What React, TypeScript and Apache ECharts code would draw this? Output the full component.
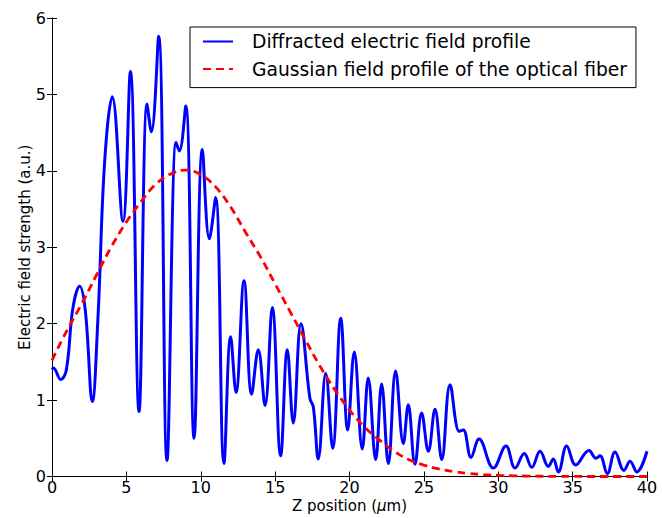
import React, { useEffect, useRef } from "react";
import * as echarts from "echarts";

// Diffracted electric field profile (extrema and shoulders)
const diffX = [
  0, 0.1, 0.58, 0.96, 1.41, 1.86, 2.24, 2.71, 3.09, 3.54, 4.05, 4.77, 5.27, 5.85, 6.39, 6.68, 7.17, 7.73,
  8.34, 8.56, 8.99, 9.55, 10.11, 10.58, 11.0, 11.56, 12.01, 12.37, 12.91, 13.42, 13.87, 14.32, 14.81, 15.37,
  15.82, 16.22, 16.74, 17.34, 17.57, 17.9, 18.4, 18.87, 19.41, 19.88, 20.32, 20.86, 21.26, 21.76, 22.16,
  22.61, 23.1, 23.62, 23.95, 24.4, 24.85, 25.3, 25.75, 26.2, 26.76, 27.38, 27.65, 28.17, 28.71, 29.67,
  30.52, 31.13, 31.75, 32.25, 32.81, 33.37, 33.7, 34.04, 34.6, 35.21, 36.1, 36.57, 36.84, 37.33, 37.85,
  38.45, 38.86, 39.31, 40,
];
const diffY = [
  1.4, 1.42, 1.27, 1.39, 2.21, 2.49, 2.17, 0.98, 2.08, 4.12, 4.97, 3.34, 5.3, 0.85, 4.87, 4.51, 5.76, 0.21,
  4.37, 4.26, 4.85, 0.5, 4.28, 3.11, 3.65, 0.17, 1.83, 1.1, 2.56, 1.08, 1.66, 0.93, 2.21, 0.27,
  1.66, 0.7, 2.0, 1.02, 0.91, 0.23, 1.35, 0.37, 2.07, 0.61, 1.63, 0.36, 1.29, 0.22, 1.21,
  0.17, 1.38, 0.43, 0.94, 0.16, 0.83, 0.33, 0.88, 0.22, 1.2, 0.59, 0.61, 0.25, 0.49, 0.11,
  0.4, 0.11, 0.3, 0.12, 0.33, 0.13, 0.23, 0.06, 0.4, 0.15, 0.34, 0.24, 0.27, 0.04, 0.32,
  0.08, 0.2, 0.06, 0.33,
];

// Gaussian field profile of the optical fiber (read at integer positions)
const gaussX = [
  0, 1, 2, 3, 4, 5, 6, 7, 8, 9, 10, 11, 12, 13, 14, 15, 16, 17, 18, 19, 20, 21, 22, 23, 24, 25, 26, 27, 28,
  29, 30, 31, 32, 33, 34, 35, 36, 37, 38, 39, 40,
];
const gaussY = [
  1.52, 1.91, 2.26, 2.64, 3.01, 3.33, 3.6, 3.83, 3.96, 4.01, 3.95, 3.79, 3.53, 3.2, 2.88, 2.52, 2.16, 1.8,
  1.45, 1.14, 0.87, 0.65, 0.48, 0.33, 0.22, 0.15, 0.1, 0.065, 0.04, 0.025, 0.015, 0.009, 0.005, 0.003,
  0.002, 0.001, 0, 0, 0, 0, 0,
];

const xTicks = { min: 0, max: 40, interval: 5 };
const yTicks = { min: 0, max: 6, interval: 1 };

const seriesNames = ["Diffracted electric field profile", "Gaussian field profile of the optical fiber"];

const FONT = "DejaVu Sans";

export default function App() {
  const ref = useRef<HTMLDivElement>(null);
  useEffect(() => {
    if (!ref.current) return;
    const chart = echarts.init(ref.current, null, { renderer: "svg" });
    const axisLine = { show: true, lineStyle: { color: "#000", width: 1 } };
    const tick = { show: true, inside: true, length: 5, lineStyle: { color: "#000", width: 1 } };
    chart.setOption({
      animation: false,
      backgroundColor: "#fff",
      textStyle: { fontFamily: FONT },
      grid: { left: 52, right: 15, top: 18, bottom: 37.5, containLabel: false },
      legend: {
        orient: "vertical",
        left: 190,
        top: 27,
        padding: [5, 9, 9, 12],
        itemGap: 8.6,
        itemWidth: 30,
        itemHeight: 19,
        borderColor: "#000",
        borderWidth: 1,
        borderRadius: 0,
        backgroundColor: "#fff",
        itemStyle: { opacity: 0 },
        textStyle: { fontFamily: FONT, fontSize: 18.7, color: "#000", padding: [0, 0, 0, 14], lineHeight: 19 },
        data: seriesNames,
      },
      xAxis: [
        {
          type: "value",
          position: "bottom",
          ...xTicks,
          name: "Z position ({i|μ}m)",
          nameLocation: "middle",
          nameGap: 21.5,
          nameMoveOverlap: false,
          nameTextStyle: {
            fontFamily: FONT,
            fontSize: 15,
            lineHeight: 15,
            color: "#000",
            verticalAlign: "top",
            rich: { i: { fontFamily: FONT, fontSize: 15, lineHeight: 15, fontStyle: "italic", color: "#000" } },
          },
          axisLine,
          axisTick: tick,
          axisLabel: { fontFamily: FONT, fontSize: 16, lineHeight: 16, color: "#000", margin: 3 },
          splitLine: { show: false },
        },
        {
          type: "value",
          position: "top",
          ...xTicks,
          axisLine,
          axisTick: tick,
          axisLabel: { show: false },
          splitLine: { show: false },
        },
      ],
      yAxis: [
        {
          type: "value",
          position: "left",
          ...yTicks,
          name: "Electric field strength (a.u.)",
          nameLocation: "middle",
          nameGap: 20,
          nameMoveOverlap: false,
          nameTextStyle: { fontFamily: FONT, fontSize: 15, color: "#000" },
          axisLine,
          axisTick: tick,
          axisLabel: { fontFamily: FONT, fontSize: 16, color: "#000", margin: 6 },
          splitLine: { show: false },
        },
        {
          type: "value",
          position: "right",
          ...yTicks,
          axisLine,
          axisTick: tick,
          axisLabel: { show: false },
          splitLine: { show: false },
        },
      ],
      series: [
        {
          name: seriesNames[0],
          type: "line",
          data: diffX.map((x, i) => [x, diffY[i]]),
          smooth: 0.4,
          symbol: "none",
          showSymbol: false,
          lineStyle: { color: "#0000ff", width: 3 },
          itemStyle: { color: "#0000ff" },
          z: 2,
        },
        {
          name: seriesNames[1],
          type: "line",
          data: gaussX.map((x, i) => [x, gaussY[i]]),
          smooth: 0.4,
          symbol: "none",
          showSymbol: false,
          lineStyle: { color: "#ff0000", width: 2.8, type: [8, 5] },
          itemStyle: { color: "#ff0000" },
          z: 3,
        },
      ],
    });
    return () => chart.dispose();
  }, []);
  return <div ref={ref} style={{ position: "absolute", left: 0, top: 0, width: 662, height: 518 }} />;
}
